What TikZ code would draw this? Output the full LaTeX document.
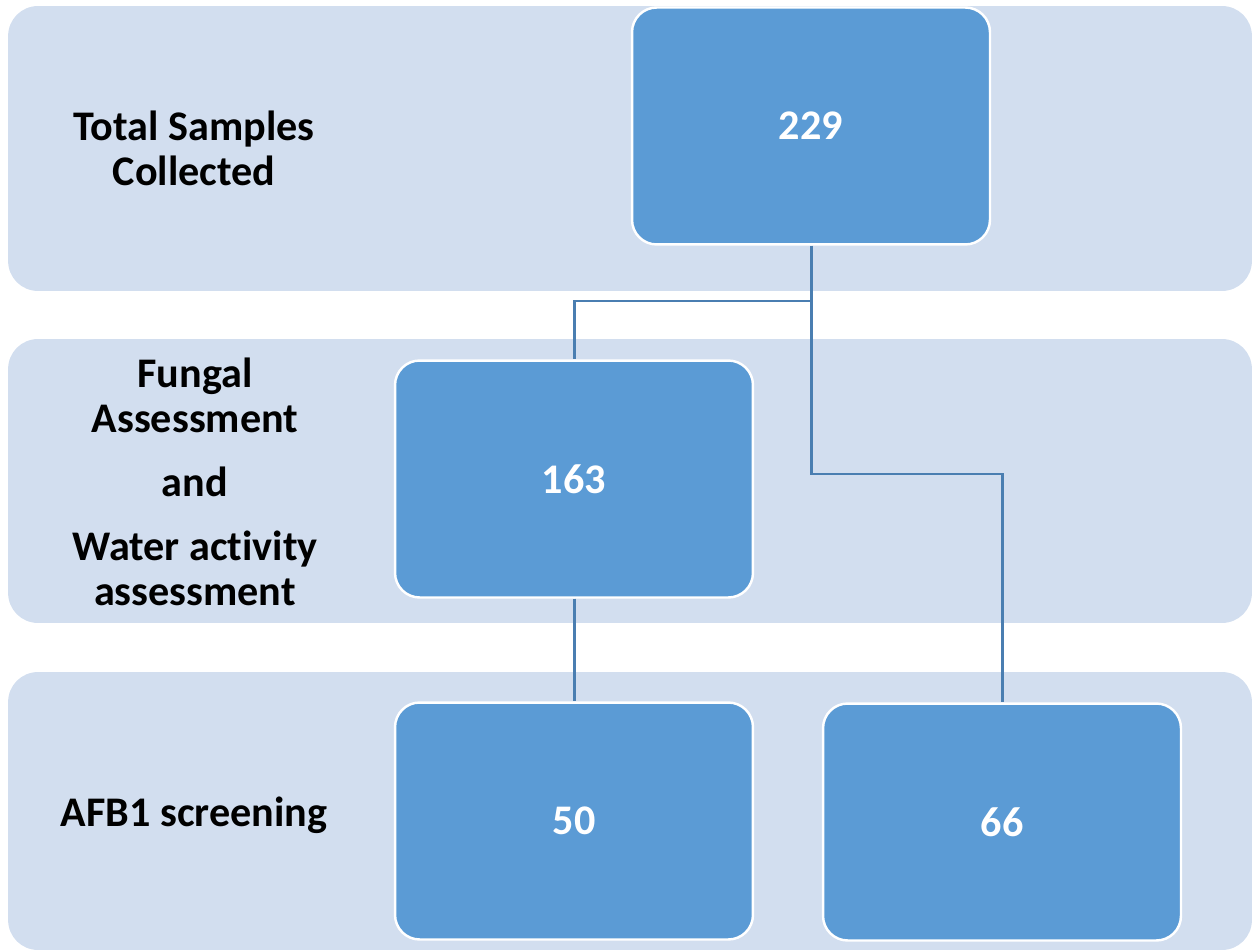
\documentclass[tikz,border=0pt]{standalone}
\usepackage{fontspec}
\setmainfont{Carlito}[Ligatures=NoCommon]
\definecolor{bandfill}{HTML}{D2DEEF}
\definecolor{boxfill}{HTML}{5B9BD5}
\definecolor{linkcol}{RGB}{74,126,177}
\begin{document}
\begin{tikzpicture}[x=0.02cm,y=-0.02cm,
  band/.style={fill=bandfill, rounded corners=17pt, inner sep=0pt, minimum width=24.88cm},
  numbox/.style={fill=boxfill, draw=white, line width=1.4pt, rounded corners=14pt, minimum width=7.16cm, minimum height=4.74cm, text=white, font=\fontsize{24}{26}\selectfont\bfseries},
  label/.style={align=center, font=\fontsize{24}{25.6}\selectfont\bfseries},
  link/.style={draw=linkcol, line width=1.7pt}]
\useasboundingbox (0,0) rectangle (1256,952);

\node[band, minimum height=5.7cm] (band1) at (630,148.5){};
\node[band, minimum height=5.68cm] (band2) at (630,481){};
\node[band, minimum height=5.56cm] (band3) at (630,811){};

\node[label] (lab1) at (194,148){Total Samples\\Collected};
\node[label] (lab2) at (195,482){Fungal\\Assessment\\[11pt]and\\[11pt]Water activity\\assessment};
\node[label] (lab3) at (194,815){AFB1 screening};

\node[numbox] (box229) at (811,126){229};
\node[numbox] (box163) at (574,479){163};
\node[numbox] (box50) at (574,821){50};
\node[numbox] (box66) at (1002,822){66};

\coordinate (j1) at (811,301);
\coordinate (j2) at (811,474);

\draw[link] (box229.south) -- (j1);
\draw[link] (j1) -| (box163.north);
\draw[link] (j1) -- (j2) -| (box66.north);
\draw[link] (box163.south) -- (box50.north);

\end{tikzpicture}
\end{document}
